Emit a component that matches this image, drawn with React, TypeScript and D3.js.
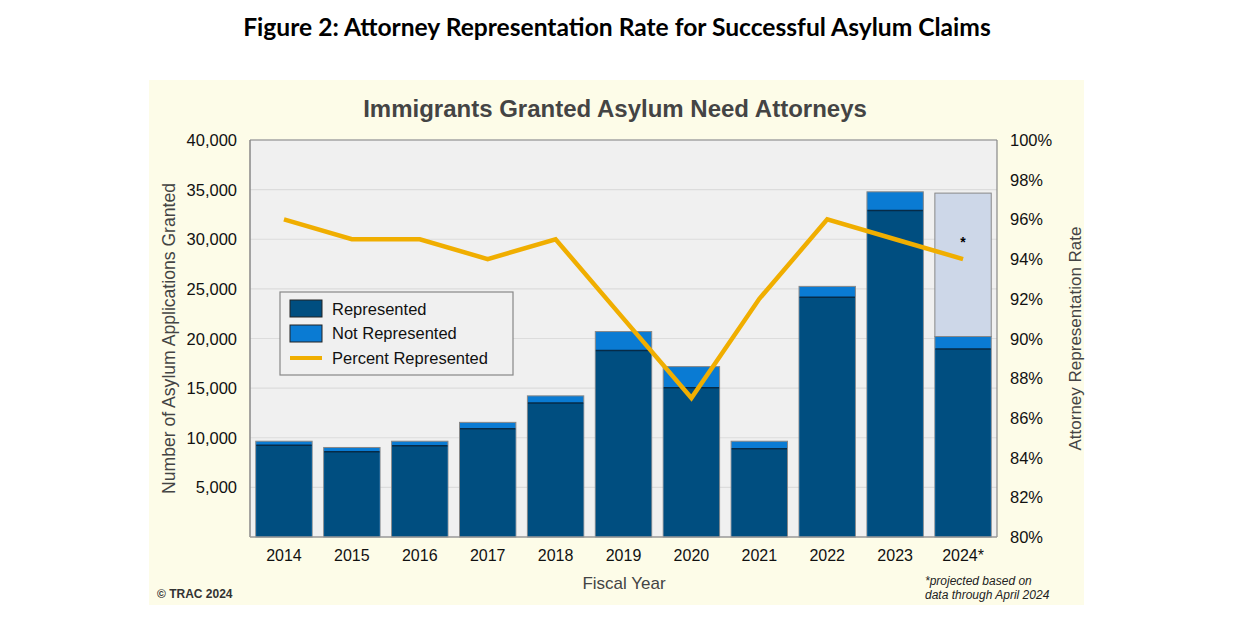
import React from "react";
import * as d3 from "d3";

const years = ["2014", "2015", "2016", "2017", "2018", "2019", "2020", "2021", "2022", "2023", "2024*"];
const represented = [9250, 8600, 9200, 10900, 13500, 18800, 15050, 8900, 24150, 32900, 18950];
const notRepresented = [400, 420, 450, 650, 720, 1900, 2120, 750, 1100, 1880, 1250];
const projectedTotal = [0, 0, 0, 0, 0, 0, 0, 0, 0, 0, 34650];
const percentRepresented = [96, 95, 95, 94, 95, 91, 87, 92, 96, 95, 94];
const leftTicks = [5000, 10000, 15000, 20000, 25000, 30000, 35000, 40000];
const rightTicks = [80, 82, 84, 86, 88, 90, 92, 94, 96, 98, 100];

const W = 1242, H = 638;
const plot = { x0: 250, x1: 997, y0: 140, y1: 537 };
const C = {
  rep: "#004e80",
  notRep: "#0a7bd3",
  line: "#f0ae00",
  proj: "#cdd7e8",
  panel: "#fdfce8",
  plotBg: "#f0f0f0",
  grid: "#dcdcdc",
};
const sans = "'Liberation Sans', Arial, sans-serif";

export default function App() {
  const x = d3.scaleBand<string>().domain(years).range([plot.x0, plot.x1]).paddingInner(0.17).paddingOuter(0.085);
  const y = d3.scaleLinear().domain([0, 40000]).range([plot.y1, plot.y0]);
  const yR = d3.scaleLinear().domain([80, 100]).range([plot.y1, plot.y0]);
  const fmt = d3.format(",");
  const line = d3.line<number>()
    .x((_, i) => (x(years[i]) as number) + x.bandwidth() / 2)
    .y((d) => yR(d));
  const bw = x.bandwidth();

  return (
    <svg width={W} height={H} style={{ display: "block", position: "absolute", left: 0, top: 0 }}>
      <rect x={0} y={0} width={W} height={H} fill="#ffffff" />
      <text x={617} y={36} textAnchor="middle" fontFamily="Lato, 'Open Sans', sans-serif" fontWeight="bold" fontSize={24.6} fill="#000">
        Figure 2: Attorney Representation Rate for Successful Asylum Claims
      </text>
      <rect x={149} y={80} width={935} height={525} fill={C.panel} />
      <text x={615} y={117} textAnchor="middle" fontFamily={sans} fontWeight="bold" fontSize={24} fill="#444">
        Immigrants Granted Asylum Need Attorneys
      </text>
      <rect x={plot.x0} y={plot.y0} width={plot.x1 - plot.x0} height={plot.y1 - plot.y0} fill={C.plotBg} />
      {leftTicks.map((t) => (
        <line key={"g" + t} x1={plot.x0} x2={plot.x1} y1={y(t)} y2={y(t)} stroke={C.grid} strokeWidth={1.2} />
      ))}
      {/* bars */}
      {years.map((yr, i) => {
        const bx = x(yr) as number;
        const total = represented[i] + notRepresented[i];
        return (
          <g key={yr}>
            {projectedTotal[i] > 0 && (
              <rect x={bx} y={y(projectedTotal[i])} width={bw} height={y(total) - y(projectedTotal[i])} fill={C.proj} stroke="#888" strokeWidth={1} />
            )}
            <rect x={bx} y={y(total)} width={bw} height={y(0) - y(total)} fill={C.notRep} stroke="#888" strokeWidth={1} />
            <rect x={bx + 0.5} y={y(represented[i])} width={bw - 1} height={y(0) - y(represented[i])} fill={C.rep} />
            <line x1={bx + 0.5} x2={bx + bw - 0.5} y1={y(represented[i])} y2={y(represented[i])} stroke="#062b47" strokeWidth={1.5} />
          </g>
        );
      })}
      {projectedTotal.map((p, i) =>
        p > 0 ? (
          <text key={"s" + i} x={(x(years[i]) as number) + bw / 2} y={y(p) + 54} textAnchor="middle" fontFamily={sans} fontSize={14} fontWeight="bold" fill="#000">*</text>
        ) : null
      )}
      {/* axes frame */}
      <line x1={plot.x0} x2={plot.x0} y1={plot.y0} y2={plot.y1} stroke="#888" strokeWidth={1.5} />
      <line x1={plot.x0} x2={plot.x1} y1={plot.y0} y2={plot.y0} stroke="#888" strokeWidth={1.2} />
      <line x1={plot.x1} x2={plot.x1} y1={plot.y0} y2={plot.y1} stroke="#888" strokeWidth={1.2} />
      <line x1={plot.x0} x2={plot.x1} y1={plot.y1} y2={plot.y1} stroke="#999" strokeWidth={1.5} />
      {/* percent line */}
      <path d={line(percentRepresented) || ""} fill="none" stroke={C.line} strokeWidth={4.5} strokeLinejoin="miter" />
      {/* left ticks */}
      {leftTicks.map((t) => (
        <text key={"l" + t} x={237} y={y(t) + 6} textAnchor="end" fontFamily={sans} fontSize={16.5} fill="#111">{fmt(t)}</text>
      ))}
      {rightTicks.map((t) => (
        <text key={"r" + t} x={1010} y={yR(t) + 6} textAnchor="start" fontFamily={sans} fontSize={16.5} fill="#111">{t}%</text>
      ))}
      {years.map((yr) => (
        <text key={"x" + yr} x={(x(yr) as number) + bw / 2} y={561} textAnchor="middle" fontFamily={sans} fontSize={16} fill="#111">{yr}</text>
      ))}
      <text transform={`translate(175, ${(plot.y0 + plot.y1) / 2}) rotate(-90)`} textAnchor="middle" fontFamily={sans} fontSize={17.6} fill="#444">
        Number of Asylum Applications Granted
      </text>
      <text transform={`translate(1081, ${(plot.y0 + plot.y1) / 2}) rotate(-90)`} textAnchor="middle" fontFamily={sans} fontSize={17} fill="#444">
        Attorney Representation Rate
      </text>
      <text x={624} y={589} textAnchor="middle" fontFamily={sans} fontSize={17} fill="#444">Fiscal Year</text>
      <text x={157} y={598} fontFamily={sans} fontSize={12} fontWeight="bold" fill="#333">© TRAC 2024</text>
      <text x={925} y={585} fontFamily={sans} fontSize={12} fontStyle="italic" fill="#222">*projected based on</text>
      <text x={925} y={599} fontFamily={sans} fontSize={12} fontStyle="italic" fill="#222">data through April 2024</text>
      {/* legend */}
      <g>
        <rect x={280} y={292} width={233} height={83} fill={C.plotBg} stroke="#888" strokeWidth={1.2} />
        <rect x={290} y={300} width={32} height={17} fill={C.rep} stroke="#222" strokeWidth={1} />
        <rect x={290} y={325} width={32} height={17} fill={C.notRep} stroke="#222" strokeWidth={1} />
        <line x1={290} x2={322} y1={358} y2={358} stroke={C.line} strokeWidth={4} />
        <text x={332} y={315} fontFamily={sans} fontSize={16.5} fill="#111">Represented</text>
        <text x={332} y={339} fontFamily={sans} fontSize={16.5} fill="#111">Not Represented</text>
        <text x={332} y={364} fontFamily={sans} fontSize={16.5} fill="#111">Percent Represented</text>
      </g>
    </svg>
  );
}
